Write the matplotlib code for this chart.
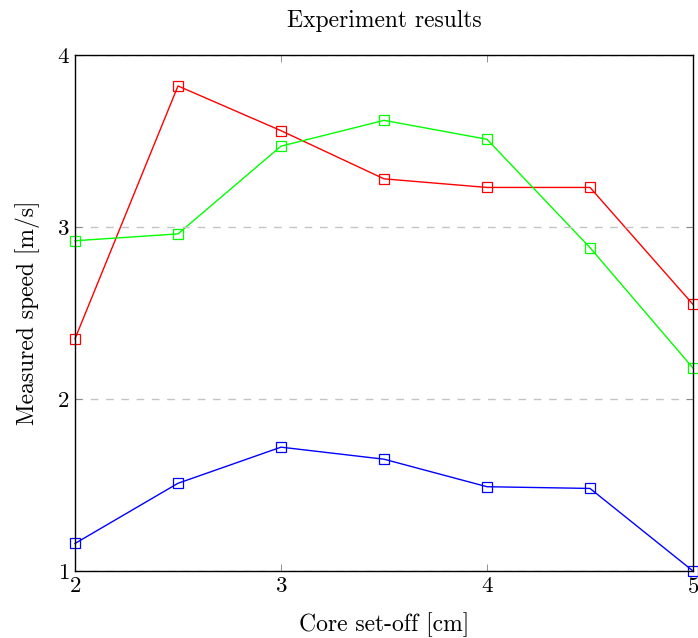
import matplotlib.pyplot as plt

# Data
x = [2, 2.5, 3, 3.5, 4, 4.5, 5]
red = [2.35, 3.82, 3.56, 3.28, 3.23, 3.23, 2.55]
green = [2.92, 2.96, 3.47, 3.62, 3.51, 2.88, 2.18]
blue = [1.16, 1.51, 1.72, 1.65, 1.49, 1.48, 1.0]

plt.rcParams['font.family'] = ['cmr10', 'DejaVu Serif']
plt.rcParams['axes.formatter.use_mathtext'] = True

fig = plt.figure(figsize=(6.98, 6.38), dpi=100)
ax = fig.add_axes([75/698, 1 - 571/638, 618/698, 516/638])

for ys, c in [(red, '#ff0000'), (green, '#00ff00'), (blue, '#0000ff')]:
    ax.plot(x, ys, color=c, lw=1.0, marker='s', markersize=7.2,
            markerfacecolor='none', markeredgecolor=c, markeredgewidth=0.9,
            clip_on=False, zorder=1.5)

ax.set_xlim(2, 5)
ax.set_ylim(1, 4)
ax.set_xticks([2, 3, 4, 5])
ax.set_yticks([1, 2, 3, 4])
ax.grid(axis='y', color='#c4c4c4', ls=(0, (5.5, 5.5)), lw=1.0)
ax.tick_params(direction='in', top=True, right=True, length=5, width=0.6,
               color='#7f7f7f', labelsize=16.5, pad=4)
for s in ax.spines.values():
    s.set_linewidth(1.0)
    s.set_zorder(3)

ax.set_title('Experiment results', fontsize=17, pad=20)
ax.set_xlabel('Core set-off [cm]', fontsize=17, labelpad=11)
ax.set_ylabel('Measured speed [m/s]', fontsize=17, labelpad=12)

fig.savefig('out.png', dpi=100)
